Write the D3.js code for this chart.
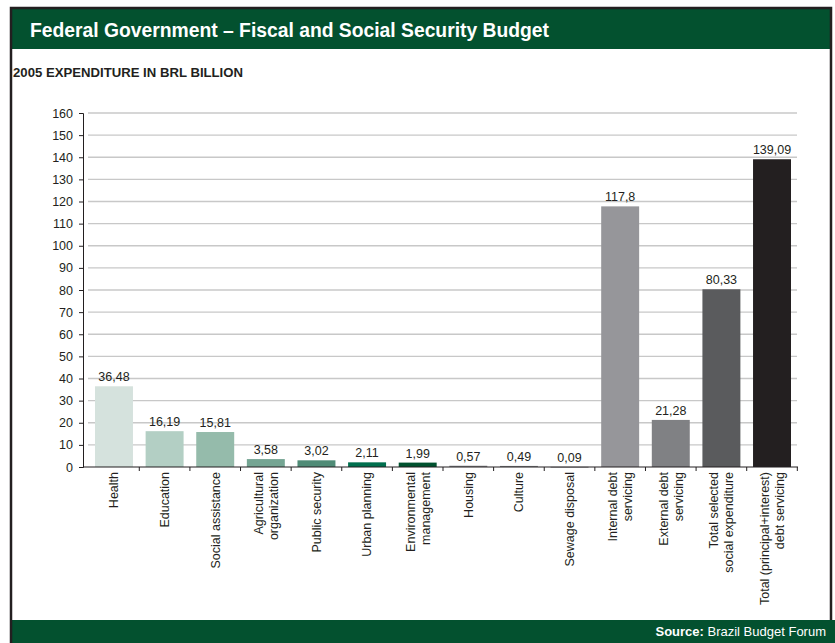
<!DOCTYPE html>
<html>
<head>
<meta charset="utf-8">
<style>
  body { margin: 0; background: #fff; }
  svg { display: block; }
  text { font-family: "Liberation Sans", Arial, sans-serif; fill: #231f20; }
</style>
</head>
<body>
<svg width="835" height="643"></svg>
<script src="https://d3js.org/d3.v7.min.js"></script>
<script>

// Data
var categories = ["Health", "Education", "Social assistance", "Agricultural|organization",
  "Public security", "Urban planning", "Environmental|management", "Housing", "Culture",
  "Sewage disposal", "Internal debt|servicing", "External debt|servicing",
  "Total selected|social expenditure", "Total (principal+interest)|debt servicing"];
var values = [36.48, 16.19, 15.81, 3.58, 3.02, 2.11, 1.99, 0.57, 0.49, 0.09, 117.8, 21.28, 80.33, 139.09];
var valueLabels = ["36,48", "16,19", "15,81", "3,58", "3,02", "2,11", "1,99", "0,57", "0,49", "0,09", "117,8", "21,28", "80,33", "139,09"];
var barColors = ["#d5e2dd", "#b3cfc4", "#95bbab", "#75a593", "#4f8b76", "#006f4e", "#00522f",
  "#808285", "#808285", "#808285", "#96969a", "#808184", "#5a5b5d", "#231f20"];
var yTicks = d3.range(0, 161, 10);

var svg = d3.select("svg");
var green = "#03512f";

// Frame and header
svg.append("rect").attr("x", 11).attr("y", 9).attr("width", 820).attr("height", 40).attr("fill", green);
svg.append("rect").attr("x", 11).attr("y", 620).attr("width", 824).attr("height", 23).attr("fill", green);
svg.append("path")
    .attr("d", "M11,643 V8 H831 V620")
    .attr("fill", "none").attr("stroke", "#231f20").attr("stroke-width", 2.5);

svg.append("text")
    .attr("x", 30).attr("y", 37)
    .attr("font-size", 20).attr("font-weight", "bold")
    .style("fill", "#fff")
    .attr("textLength", 519).attr("lengthAdjust", "spacingAndGlyphs")
    .text("Federal Government \u2013 Fiscal and Social Security Budget");

svg.append("text")
    .attr("x", 13).attr("y", 77)
    .attr("font-size", 12).attr("font-weight", "bold")
    .attr("textLength", 230).attr("lengthAdjust", "spacingAndGlyphs")
    .text("2005 EXPENDITURE IN BRL BILLION");

var src = svg.append("text")
    .attr("x", 826).attr("y", 636)
    .attr("text-anchor", "end")
    .attr("font-size", 13)
    .style("fill", "#fff");
src.append("tspan").attr("font-weight", "bold").style("fill", "#fff").text("Source:");
src.append("tspan").style("fill", "#fff").text(" Brazil Budget Forum");

// Scales
var x = d3.scaleBand()
    .domain(categories)
    .range([95, 791])
    .paddingInner(0.25)
    .paddingOuter(0);

var y = d3.scaleLinear()
    .domain([0, 160])
    .range([467, 113]);

// Gridlines
svg.append("g")
  .selectAll("line")
  .data(yTicks.slice(1))
  .join("line")
    .attr("x1", 88).attr("x2", 797)
    .attr("y1", function(d) { return y(d); })
    .attr("y2", function(d) { return y(d); })
    .attr("stroke", "#c8c8c8").attr("stroke-width", 1.4);

// Y axis
var yAxis = svg.append("g")
    .attr("transform", "translate(83,0)")
    .call(d3.axisLeft(y).tickValues(yTicks).tickSize(4).tickPadding(6));
yAxis.select(".domain").attr("stroke", "#231f20");
yAxis.selectAll(".tick line").attr("stroke", "#231f20");
yAxis.selectAll("text").attr("font-size", 12.5).attr("font-family", null).style("fill", "#231f20");

// Bars
svg.append("g")
  .selectAll("rect")
  .data(values)
  .join("rect")
    .attr("x", function(d, i) { return x(categories[i]); })
    .attr("width", x.bandwidth())
    .attr("y", function(d) { return y(d); })
    .attr("height", function(d) { return Math.max(0.8, y(0) - y(d)); })
    .attr("fill", function(d, i) { return barColors[i]; });

// Value labels
svg.append("g")
  .selectAll("text")
  .data(values)
  .join("text")
    .attr("x", function(d, i) { return x(categories[i]) + x.bandwidth() / 2; })
    .attr("y", function(d) { return y(d) - 5; })
    .attr("text-anchor", "middle")
    .attr("font-size", 12.5)
    .text(function(d, i) { return valueLabels[i]; });

// X axis line and separator ticks
var gap = x.step() - x.bandwidth();
var bounds = categories.map(function(c) { return x(c) + x.bandwidth() + gap / 2; });
svg.append("line")
    .attr("x1", 83).attr("x2", 798).attr("y1", y(0)).attr("y2", y(0))
    .attr("stroke", "#231f20").attr("stroke-width", 1.2);
svg.append("g")
  .selectAll("line")
  .data(bounds)
  .join("line")
    .attr("x1", function(d) { return d; }).attr("x2", function(d) { return d; })
    .attr("y1", y(0)).attr("y2", y(0) + 4)
    .attr("stroke", "#231f20");

// Category labels (rotated)
var lab = svg.append("g")
  .selectAll("g")
  .data(categories)
  .join("g")
    .attr("transform", function(d) {
      return "translate(" + (x(d) + x.bandwidth() / 2) + "," + (y(0) + 5) + ") rotate(-90)";
    });
lab.each(function(d) {
  var lines = d.split("|");
  var g = d3.select(this);
  lines.forEach(function(l, k) {
    g.append("text")
        .attr("x", 0)
        .attr("y", (k - (lines.length - 1) / 2) * 15)
        .attr("dy", "0.35em")
        .attr("text-anchor", "end")
        .attr("font-size", 12.5)
        .text(l);
  });
});

</script>
</body>
</html>
